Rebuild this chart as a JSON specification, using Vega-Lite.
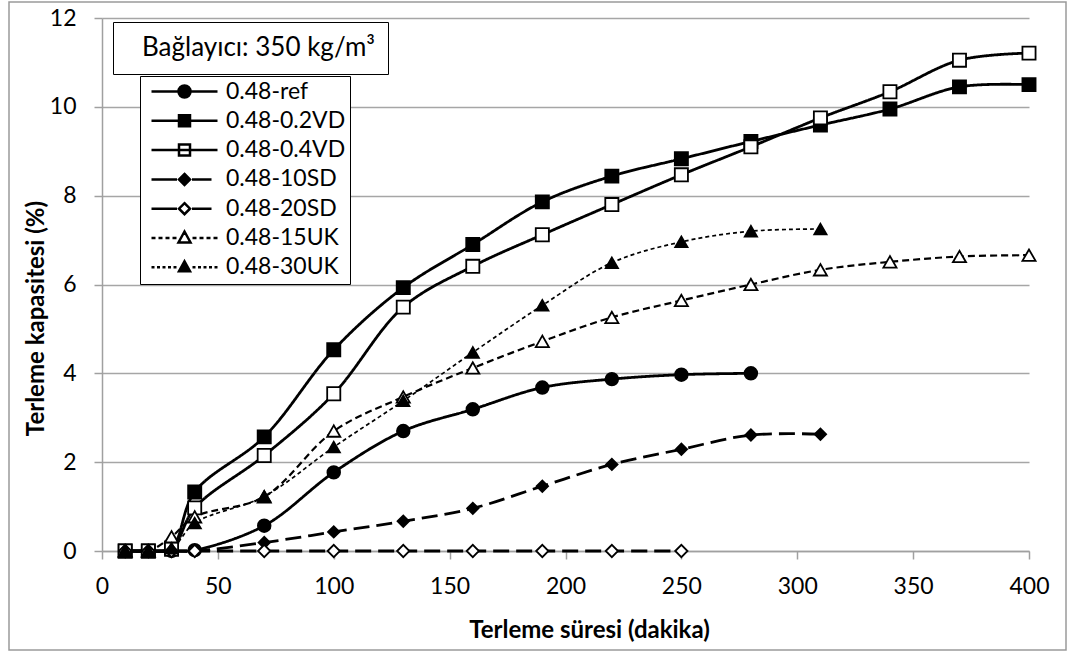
{
  "$schema": "https://vega.github.io/schema/vega-lite/v6.json",
  "width": 1057,
  "height": 648,
  "autosize": {"type": "none"},
  "padding": {"left": 9, "top": 2, "right": 8, "bottom": 5},
  "background": "white",
  "config": {
    "font": "Lato",
    "view": {"stroke": "#9a9a9a", "strokeWidth": 1.5},
    "axis": {
      "labelFont": "Lato",
      "labelFontSize": 23,
      "labelColor": "black",
      "titleFont": "Lato",
      "titleFontSize": 24,
      "titleFontWeight": "bold",
      "titleColor": "black",
      "domainColor": "#a0a0a0",
      "domainWidth": 1.5,
      "tickColor": "#a0a0a0",
      "tickWidth": 1.5,
      "tickSize": 8,
      "gridColor": "#a6a6a6",
      "gridWidth": 1.5,
      "labelOverlap": false,
      "labelFlush": false
    },
    "legend": {
      "orient": "none",
      "legendX": 131,
      "legendY": 74,
      "strokeColor": "black",
      "fillColor": "white",
      "padding": 4,
      "labelFont": "Lato",
      "labelFontSize": 23,
      "labelColor": "black",
      "labelLimit": 0,
      "symbolSize": 100,
      "symbolOpacity": 1,
      "symbolStrokeColor": "black",
      "symbolStrokeWidth": 2.5,
      "symbolOffset": 29,
      "labelOffset": 30,
      "rowPadding": 5.3
    }
  },
  "data": {
    "values": [
      {"series": "0.48-ref", "t": 10, "v": 0, "binder": "Bağlayıcı: 350 kg/m³"},
      {"series": "0.48-ref", "t": 20, "v": 0, "binder": "Bağlayıcı: 350 kg/m³"},
      {"series": "0.48-ref", "t": 30, "v": 0, "binder": "Bağlayıcı: 350 kg/m³"},
      {"series": "0.48-ref", "t": 40, "v": 0.02, "binder": "Bağlayıcı: 350 kg/m³"},
      {"series": "0.48-ref", "t": 70, "v": 0.57, "binder": "Bağlayıcı: 350 kg/m³"},
      {"series": "0.48-ref", "t": 100, "v": 1.77, "binder": "Bağlayıcı: 350 kg/m³"},
      {"series": "0.48-ref", "t": 130, "v": 2.7, "binder": "Bağlayıcı: 350 kg/m³"},
      {"series": "0.48-ref", "t": 160, "v": 3.19, "binder": "Bağlayıcı: 350 kg/m³"},
      {"series": "0.48-ref", "t": 190, "v": 3.68, "binder": "Bağlayıcı: 350 kg/m³"},
      {"series": "0.48-ref", "t": 220, "v": 3.87, "binder": "Bağlayıcı: 350 kg/m³"},
      {"series": "0.48-ref", "t": 250, "v": 3.97, "binder": "Bağlayıcı: 350 kg/m³"},
      {"series": "0.48-ref", "t": 280, "v": 4.0, "binder": "Bağlayıcı: 350 kg/m³"},

      {"series": "0.48-0.2VD", "t": 10, "v": 0, "binder": "Bağlayıcı: 350 kg/m³"},
      {"series": "0.48-0.2VD", "t": 20, "v": 0, "binder": "Bağlayıcı: 350 kg/m³"},
      {"series": "0.48-0.2VD", "t": 30, "v": 0.07, "binder": "Bağlayıcı: 350 kg/m³"},
      {"series": "0.48-0.2VD", "t": 40, "v": 1.33, "binder": "Bağlayıcı: 350 kg/m³"},
      {"series": "0.48-0.2VD", "t": 70, "v": 2.57, "binder": "Bağlayıcı: 350 kg/m³"},
      {"series": "0.48-0.2VD", "t": 100, "v": 4.53, "binder": "Bağlayıcı: 350 kg/m³"},
      {"series": "0.48-0.2VD", "t": 130, "v": 5.93, "binder": "Bağlayıcı: 350 kg/m³"},
      {"series": "0.48-0.2VD", "t": 160, "v": 6.9, "binder": "Bağlayıcı: 350 kg/m³"},
      {"series": "0.48-0.2VD", "t": 190, "v": 7.86, "binder": "Bağlayıcı: 350 kg/m³"},
      {"series": "0.48-0.2VD", "t": 220, "v": 8.44, "binder": "Bağlayıcı: 350 kg/m³"},
      {"series": "0.48-0.2VD", "t": 250, "v": 8.83, "binder": "Bağlayıcı: 350 kg/m³"},
      {"series": "0.48-0.2VD", "t": 280, "v": 9.22, "binder": "Bağlayıcı: 350 kg/m³"},
      {"series": "0.48-0.2VD", "t": 310, "v": 9.59, "binder": "Bağlayıcı: 350 kg/m³"},
      {"series": "0.48-0.2VD", "t": 340, "v": 9.95, "binder": "Bağlayıcı: 350 kg/m³"},
      {"series": "0.48-0.2VD", "t": 370, "v": 10.45, "binder": "Bağlayıcı: 350 kg/m³"},
      {"series": "0.48-0.2VD", "t": 400, "v": 10.5, "binder": "Bağlayıcı: 350 kg/m³"},

      {"series": "0.48-0.4VD", "t": 10, "v": 0, "binder": "Bağlayıcı: 350 kg/m³"},
      {"series": "0.48-0.4VD", "t": 20, "v": 0, "binder": "Bağlayıcı: 350 kg/m³"},
      {"series": "0.48-0.4VD", "t": 30, "v": 0.04, "binder": "Bağlayıcı: 350 kg/m³"},
      {"series": "0.48-0.4VD", "t": 40, "v": 0.97, "binder": "Bağlayıcı: 350 kg/m³"},
      {"series": "0.48-0.4VD", "t": 70, "v": 2.15, "binder": "Bağlayıcı: 350 kg/m³"},
      {"series": "0.48-0.4VD", "t": 100, "v": 3.54, "binder": "Bağlayıcı: 350 kg/m³"},
      {"series": "0.48-0.4VD", "t": 130, "v": 5.49, "binder": "Bağlayıcı: 350 kg/m³"},
      {"series": "0.48-0.4VD", "t": 160, "v": 6.41, "binder": "Bağlayıcı: 350 kg/m³"},
      {"series": "0.48-0.4VD", "t": 190, "v": 7.12, "binder": "Bağlayıcı: 350 kg/m³"},
      {"series": "0.48-0.4VD", "t": 220, "v": 7.8, "binder": "Bağlayıcı: 350 kg/m³"},
      {"series": "0.48-0.4VD", "t": 250, "v": 8.47, "binder": "Bağlayıcı: 350 kg/m³"},
      {"series": "0.48-0.4VD", "t": 280, "v": 9.1, "binder": "Bağlayıcı: 350 kg/m³"},
      {"series": "0.48-0.4VD", "t": 310, "v": 9.75, "binder": "Bağlayıcı: 350 kg/m³"},
      {"series": "0.48-0.4VD", "t": 340, "v": 10.34, "binder": "Bağlayıcı: 350 kg/m³"},
      {"series": "0.48-0.4VD", "t": 370, "v": 11.05, "binder": "Bağlayıcı: 350 kg/m³"},
      {"series": "0.48-0.4VD", "t": 400, "v": 11.21, "binder": "Bağlayıcı: 350 kg/m³"},

      {"series": "0.48-10SD", "t": 10, "v": 0, "binder": "Bağlayıcı: 350 kg/m³"},
      {"series": "0.48-10SD", "t": 20, "v": 0, "binder": "Bağlayıcı: 350 kg/m³"},
      {"series": "0.48-10SD", "t": 30, "v": 0, "binder": "Bağlayıcı: 350 kg/m³"},
      {"series": "0.48-10SD", "t": 40, "v": 0, "binder": "Bağlayıcı: 350 kg/m³"},
      {"series": "0.48-10SD", "t": 70, "v": 0.19, "binder": "Bağlayıcı: 350 kg/m³"},
      {"series": "0.48-10SD", "t": 100, "v": 0.43, "binder": "Bağlayıcı: 350 kg/m³"},
      {"series": "0.48-10SD", "t": 130, "v": 0.67, "binder": "Bağlayıcı: 350 kg/m³"},
      {"series": "0.48-10SD", "t": 160, "v": 0.96, "binder": "Bağlayıcı: 350 kg/m³"},
      {"series": "0.48-10SD", "t": 190, "v": 1.46, "binder": "Bağlayıcı: 350 kg/m³"},
      {"series": "0.48-10SD", "t": 220, "v": 1.95, "binder": "Bağlayıcı: 350 kg/m³"},
      {"series": "0.48-10SD", "t": 250, "v": 2.29, "binder": "Bağlayıcı: 350 kg/m³"},
      {"series": "0.48-10SD", "t": 280, "v": 2.61, "binder": "Bağlayıcı: 350 kg/m³"},
      {"series": "0.48-10SD", "t": 310, "v": 2.63, "binder": "Bağlayıcı: 350 kg/m³"},

      {"series": "0.48-20SD", "t": 10, "v": 0, "binder": "Bağlayıcı: 350 kg/m³"},
      {"series": "0.48-20SD", "t": 20, "v": 0, "binder": "Bağlayıcı: 350 kg/m³"},
      {"series": "0.48-20SD", "t": 30, "v": 0, "binder": "Bağlayıcı: 350 kg/m³"},
      {"series": "0.48-20SD", "t": 40, "v": 0, "binder": "Bağlayıcı: 350 kg/m³"},
      {"series": "0.48-20SD", "t": 70, "v": 0, "binder": "Bağlayıcı: 350 kg/m³"},
      {"series": "0.48-20SD", "t": 100, "v": 0, "binder": "Bağlayıcı: 350 kg/m³"},
      {"series": "0.48-20SD", "t": 130, "v": 0, "binder": "Bağlayıcı: 350 kg/m³"},
      {"series": "0.48-20SD", "t": 160, "v": 0, "binder": "Bağlayıcı: 350 kg/m³"},
      {"series": "0.48-20SD", "t": 190, "v": 0, "binder": "Bağlayıcı: 350 kg/m³"},
      {"series": "0.48-20SD", "t": 220, "v": 0, "binder": "Bağlayıcı: 350 kg/m³"},
      {"series": "0.48-20SD", "t": 250, "v": 0, "binder": "Bağlayıcı: 350 kg/m³"},

      {"series": "0.48-15UK", "t": 10, "v": 0, "binder": "Bağlayıcı: 350 kg/m³"},
      {"series": "0.48-15UK", "t": 20, "v": 0, "binder": "Bağlayıcı: 350 kg/m³"},
      {"series": "0.48-15UK", "t": 30, "v": 0.32, "binder": "Bağlayıcı: 350 kg/m³"},
      {"series": "0.48-15UK", "t": 40, "v": 0.77, "binder": "Bağlayıcı: 350 kg/m³"},
      {"series": "0.48-15UK", "t": 70, "v": 1.22, "binder": "Bağlayıcı: 350 kg/m³"},
      {"series": "0.48-15UK", "t": 100, "v": 2.7, "binder": "Bağlayıcı: 350 kg/m³"},
      {"series": "0.48-15UK", "t": 130, "v": 3.47, "binder": "Bağlayıcı: 350 kg/m³"},
      {"series": "0.48-15UK", "t": 160, "v": 4.12, "binder": "Bağlayıcı: 350 kg/m³"},
      {"series": "0.48-15UK", "t": 190, "v": 4.72, "binder": "Bağlayıcı: 350 kg/m³"},
      {"series": "0.48-15UK", "t": 220, "v": 5.26, "binder": "Bağlayıcı: 350 kg/m³"},
      {"series": "0.48-15UK", "t": 250, "v": 5.64, "binder": "Bağlayıcı: 350 kg/m³"},
      {"series": "0.48-15UK", "t": 280, "v": 6.0, "binder": "Bağlayıcı: 350 kg/m³"},
      {"series": "0.48-15UK", "t": 310, "v": 6.33, "binder": "Bağlayıcı: 350 kg/m³"},
      {"series": "0.48-15UK", "t": 340, "v": 6.51, "binder": "Bağlayıcı: 350 kg/m³"},
      {"series": "0.48-15UK", "t": 370, "v": 6.63, "binder": "Bağlayıcı: 350 kg/m³"},
      {"series": "0.48-15UK", "t": 400, "v": 6.66, "binder": "Bağlayıcı: 350 kg/m³"},

      {"series": "0.48-30UK", "t": 10, "v": 0, "binder": "Bağlayıcı: 350 kg/m³"},
      {"series": "0.48-30UK", "t": 20, "v": 0, "binder": "Bağlayıcı: 350 kg/m³"},
      {"series": "0.48-30UK", "t": 30, "v": 0.06, "binder": "Bağlayıcı: 350 kg/m³"},
      {"series": "0.48-30UK", "t": 40, "v": 0.63, "binder": "Bağlayıcı: 350 kg/m³"},
      {"series": "0.48-30UK", "t": 70, "v": 1.23, "binder": "Bağlayıcı: 350 kg/m³"},
      {"series": "0.48-30UK", "t": 100, "v": 2.34, "binder": "Bağlayıcı: 350 kg/m³"},
      {"series": "0.48-30UK", "t": 130, "v": 3.38, "binder": "Bağlayıcı: 350 kg/m³"},
      {"series": "0.48-30UK", "t": 160, "v": 4.47, "binder": "Bağlayıcı: 350 kg/m³"},
      {"series": "0.48-30UK", "t": 190, "v": 5.53, "binder": "Bağlayıcı: 350 kg/m³"},
      {"series": "0.48-30UK", "t": 220, "v": 6.49, "binder": "Bağlayıcı: 350 kg/m³"},
      {"series": "0.48-30UK", "t": 250, "v": 6.96, "binder": "Bağlayıcı: 350 kg/m³"},
      {"series": "0.48-30UK", "t": 280, "v": 7.2, "binder": "Bağlayıcı: 350 kg/m³"},
      {"series": "0.48-30UK", "t": 310, "v": 7.25, "binder": "Bağlayıcı: 350 kg/m³"}
    ]
  },
  "encoding": {
    "x": {
      "field": "t",
      "type": "quantitative",
      "scale": {"domain": [0, 400], "range": [93, 1020], "nice": false, "zero": false},
      "axis": {
        "orient": "bottom",
        "offset": -99,
        "values": [0, 50, 100, 150, 200, 250, 300, 350, 400],
        "grid": false,
        "labelPadding": 16,
        "title": "Terleme süresi (dakika)",
        "titleX": 580,
        "titleY": 79,
        "titleBaseline": "middle",
        "titleAlign": "center"
      }
    },
    "y": {
      "field": "v",
      "type": "quantitative",
      "scale": {"domain": [0, 12], "range": [549, 16], "nice": false},
      "axis": {
        "orient": "left",
        "offset": -93,
        "values": [0, 2, 4, 6, 8, 10, 12],
        "grid": true,
        "labelPadding": 18,
        "title": "Terleme kapasitesi (%)",
        "titleX": -66,
        "titleY": 316,
        "titleAngle": -90,
        "titleAlign": "center",
        "titleBaseline": "middle"
      }
    }
  },
  "layer": [
    {
      "mark": {"type": "line", "interpolate": "catmull-rom"},
      "encoding": {
        "detail": {"field": "series", "type": "nominal"},
        "color": {
          "field": "binder",
          "type": "nominal",
          "title": null,
          "scale": {"range": ["black"]},
          "legend": {
            "legendX": 104,
            "legendY": 20,
            "padding": 13,
            "labelFontSize": 26,
            "symbolOpacity": 0,
            "symbolSize": 1,
            "symbolOffset": 0,
            "symbolStrokeWidth": 0,
            "labelOffset": -10
          }
        },
        "strokeDash": {
          "condition": [
            {"test": "datum.series === '0.48-10SD' || datum.series === '0.48-20SD'", "value": [16, 7]},
            {"test": "datum.series === '0.48-15UK'", "value": [7, 4]},
            {"test": "datum.series === '0.48-30UK'", "value": [4, 3]}
          ],
          "value": [1, 0]
        },
        "strokeWidth": {
          "condition": [
            {"test": "datum.series === '0.48-15UK'", "value": 2.2},
            {"test": "datum.series === '0.48-30UK'", "value": 1.7}
          ],
          "value": 2.8
        }
      }
    },
    {
      "mark": {"type": "point", "filled": true, "stroke": "black", "strokeWidth": 1.8, "opacity": 1},
      "encoding": {
        "shape": {
          "condition": [
            {"test": "datum.series === '0.48-ref'", "value": "circle"},
            {"test": "datum.series === '0.48-10SD' || datum.series === '0.48-20SD'", "value": "diamond"},
            {"test": "datum.series === '0.48-15UK' || datum.series === '0.48-30UK'", "value": "triangle-up"}
          ],
          "value": "square"
        },
        "fill": {
          "condition": {"test": "indexof(['0.48-0.4VD', '0.48-20SD', '0.48-15UK'], datum.series) >= 0", "value": "white"},
          "value": "black"
        },
        "size": {
          "condition": [
            {"test": "datum.series === '0.48-ref'", "value": 160},
            {"test": "datum.series === '0.48-10SD'", "value": 130},
            {"test": "datum.series === '0.48-20SD' || datum.series === '0.48-30UK'", "value": 150}
          ],
          "value": 172
        }
      }
    },
    {
      "mark": {"type": "point", "filled": true, "opacity": 0, "size": 100},
      "encoding": {
        "shape": {
          "field": "series",
          "type": "nominal",
          "title": null,
          "scale": {
            "domain": ["0.48-ref", "0.48-0.2VD", "0.48-0.4VD", "0.48-10SD", "0.48-20SD", "0.48-15UK", "0.48-30UK"],
            "range": [
              "M-6.6,0H6.6M1.2,0A1.2,1.2,0,1,1,-1.2,0A1.2,1.2,0,1,1,1.2,0Z",
              "M-6.6,0H6.6M-1.1,-1.1H1.1V1.1H-1.1Z",
              "M-6.6,0H6.6M-1.1,-1.1H1.1V1.1H-1.1Z",
              "M-6.6,0H-1.5M1.5,0H5.4M0,-1.1L1.1,0L0,1.1L-1.1,0Z",
              "M-6.6,0H-1.5M1.5,0H5.4M0,-1.1L1.1,0L0,1.1L-1.1,0Z",
              "M-6.6,0H-5.8M-5.2,0H-4.4M-3.8,0H-3M-2.4,0H-1.6M1.6,0H2.4M3,0H3.8M4.4,0H5.2M5.8,0H6.6M0,-1.3L1.2,0.9L-1.2,0.9Z",
              "M-6.6,0H-6M-5.5,0H-4.9M-4.4,0H-3.8M-3.3,0H-2.7M-2.2,0H-1.6M1.6,0H2.2M2.7,0H3.3M3.8,0H4.4M4.9,0H5.5M6,0H6.6M0,-1.2L1.1,0.8L-1.1,0.8Z"
            ]
          }
        },
        "fill": {
          "field": "series",
          "type": "nominal",
          "title": null,
          "scale": {
            "domain": ["0.48-ref", "0.48-0.2VD", "0.48-0.4VD", "0.48-10SD", "0.48-20SD", "0.48-15UK", "0.48-30UK"],
            "range": ["black", "black", "white", "black", "white", "white", "black"]
          }
        },
        "stroke": {
          "field": "series",
          "type": "nominal",
          "title": null,
          "scale": {
            "domain": ["0.48-ref", "0.48-0.2VD", "0.48-0.4VD", "0.48-10SD", "0.48-20SD", "0.48-15UK", "0.48-30UK"],
            "range": ["black", "black", "black", "black", "black", "black", "black"]
          }
        },
        "strokeWidth": {
          "field": "series",
          "type": "ordinal",
          "title": null,
          "scale": {
            "domain": ["0.48-ref", "0.48-0.2VD", "0.48-0.4VD", "0.48-10SD", "0.48-20SD", "0.48-15UK", "0.48-30UK"],
            "range": [2.5, 2.5, 2.5, 2.5, 2.5, 2, 1.6]
          }
        }
      }
    }
  ]
}
